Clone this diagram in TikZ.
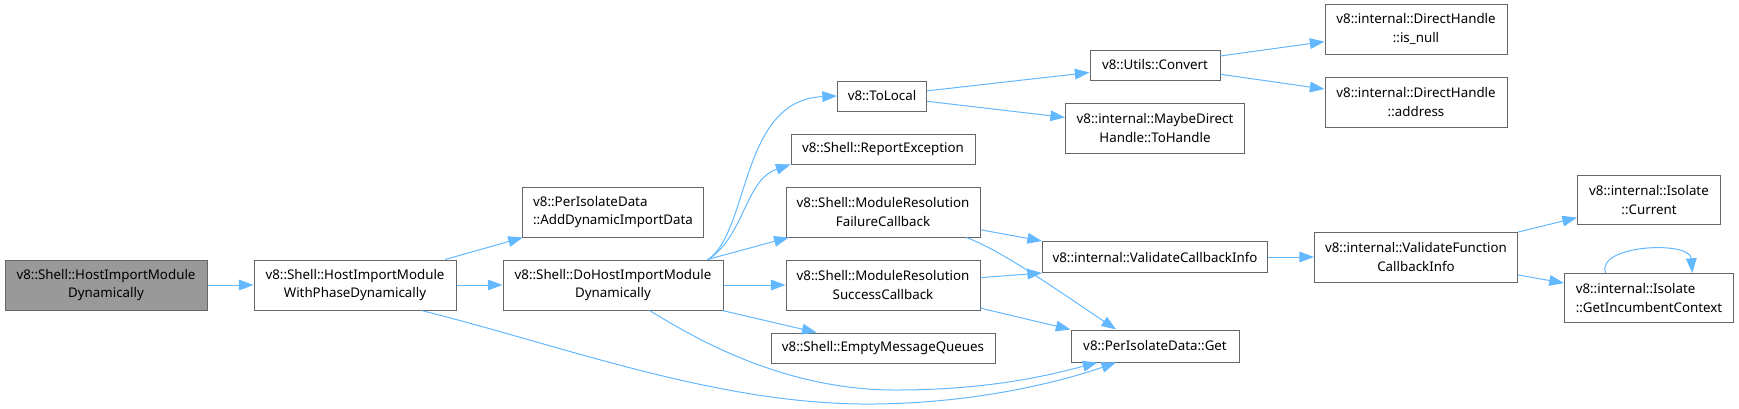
\documentclass[tikz,border=0pt]{standalone}
\usepackage{fontspec}
\setmainfont{Noto Sans}
\usetikzlibrary{arrows.meta}

\definecolor{boxgray}{HTML}{666666}
\definecolor{rootgray}{HTML}{999999}
\definecolor{edgeblue}{HTML}{63B8FF}

\tikzset{
  fn/.style 2 args={draw=boxgray, line width=0.75pt, fill=white, inner sep=2pt,
    font=\fontsize{10}{13.7}\selectfont, align=center,
    minimum width=#1*0.75pt, minimum height=#2*0.75pt},
  call/.style={draw=edgeblue, line width=0.75pt, -{Triangle[length=11pt,width=8pt]}},
}

\begin{document}
\begin{tikzpicture}[x=0.75pt, y=-0.75pt]
        \useasboundingbox (0,0) rectangle (1739,408);

        % Draw nodes
        \node[fn={202}{50}, fill=rootgray] (1) at (106,285) {v8::Shell::HostImportModule\\Dynamically};
        \node[fn={202}{50}] (2) at (355,285) {v8::Shell::HostImportModule\\WithPhaseDynamically};
        \node[fn={181}{50}, align=left] (3) at (613,212) {v8::PerIsolateData\\::AddDynamicImportData};
        \node[fn={220}{50}] (4) at (613,285) {v8::Shell::DoHostImportModule\\Dynamically};
        \node[fn={89}{30}] (5) at (882,96) {v8::ToLocal};
        \node[fn={184}{30}] (6) at (883,149) {v8::Shell::ReportException};
        \node[fn={194}{50}] (7) at (883,212) {v8::Shell::ModuleResolution\\FailureCallback};
        \node[fn={194}{50}] (8) at (883,285) {v8::Shell::ModuleResolution\\SuccessCallback};
        \node[fn={224}{30}] (9) at (883,348) {v8::Shell::EmptyMessageQueues};
        \node[fn={130}{30}] (10) at (1155,65) {v8::Utils::Convert};
        \node[fn={179}{50}] (11) at (1155,128) {v8::internal::MaybeDirect\\Handle::ToHandle};
        \node[fn={182}{50}] (12) at (1416,29) {v8::internal::DirectHandle\\::is\_null};
        \node[fn={182}{50}] (13) at (1416,102) {v8::internal::DirectHandle\\::address};
        \node[fn={225}{31}] (14) at (1155,257) {v8::internal::ValidateCallbackInfo};
        \node[fn={168}{32}] (15) at (1155,346) {v8::PerIsolateData::Get};
        \node[fn={203}{50}] (16) at (1416,257) {v8::internal::ValidateFunction\\CallbackInfo};
        \node[fn={143}{49}] (17) at (1649,200) {v8::internal::Isolate\\::Current};
        \node[fn={169}{49}, align=left] (18) at (1649,298) {v8::internal::Isolate\\::GetIncumbentContext};

        % Draw connections
        \draw[call] (1) -- (2);
        \draw[call] (2) -- (3);
        \draw[call] (2) -- (4);
        \draw[call] (2.-21.6) .. controls (560,345) and (710,402) .. (860,404)
            .. controls (970,405) and (1060,382) .. (15.203);
        \draw[call] (4.15) .. controls (750,230) and (740,100) .. (5.west);
        \draw[call] (4.15) .. controls (745,235) and (745,180) .. (6.south west);
        \draw[call] (4) -- (7);
        \draw[call] (4) -- (8);
        \draw[call] (4) -- (9);
        \draw[call] (4.-35.5) .. controls (690,335) and (780,390) .. (895,390)
            .. controls (990,390) and (1050,375) .. (15.196);
        \draw[call] (5) -- (10);
        \draw[call] (5) -- (11);
        \draw[call] (10) -- (12);
        \draw[call] (10) -- (13);
        \draw[call] (7) -- (14.north west);
        \draw[call] (7.-17) .. controls (1000,250) and (1050,285) .. (15.157);
        \draw[call] (8) -- (14.south west);
        \draw[call] (8) -- (15.north west);
        \draw[call] (14) -- (16);
        \draw[call] (16) -- (17);
        \draw[call] (16) -- (18);
        \draw[call] (18.150) .. controls (1595,245) and (1690,240) .. (18.30);
    \end{tikzpicture}
\end{document}
